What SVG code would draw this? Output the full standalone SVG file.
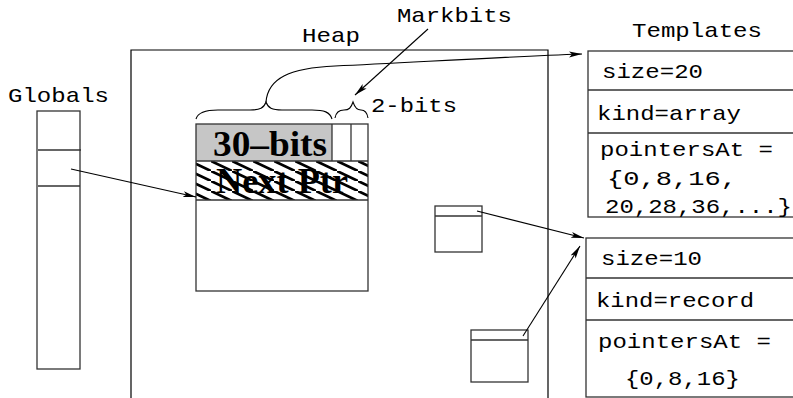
<svg xmlns="http://www.w3.org/2000/svg" width="793" height="398" viewBox="0 0 793 398">
<style>
.mono{font-family:"Liberation Mono","DejaVu Sans Mono",monospace;font-size:21px;fill:#000}
.big{font-family:"Liberation Serif","DejaVu Serif",serif;font-size:36px;font-weight:bold;fill:#000}
.box{fill:none;stroke:#333;stroke-width:1.3}
.ln{fill:none;stroke:#000;stroke-width:1.2}
.conn{fill:none;stroke:#000;stroke-width:1.1}
</style>
<defs>
<marker id="ah" markerUnits="userSpaceOnUse" markerWidth="14" markerHeight="8" refX="13" refY="4" orient="auto">
<path d="M0,1 L13,4 L0,7 L3,4 z" fill="#000"/>
</marker>
<pattern id="hatch" patternUnits="userSpaceOnUse" width="21" height="10" x="190" y="161">
<path d="M-21,-10 L42,20" stroke="#000" stroke-width="2.7"/>
</pattern>
<clipPath id="npclip"><rect x="196" y="161" width="172" height="39"/></clipPath>
</defs>

<g id="globals">
<text class="mono" x="8" y="102" textLength="101" lengthAdjust="spacingAndGlyphs">Globals</text>
<rect class="box" x="37" y="111" width="43" height="258"/>
<line class="box" x1="38" y1="150" x2="81" y2="150"/>
<line class="box" x1="38" y1="186" x2="80" y2="186"/>
</g>

<g id="heap">
<text class="mono" x="302" y="42" textLength="58" lengthAdjust="spacingAndGlyphs">Heap</text>
<path class="ln" d="M131,400 V50 H548 V400"/>
</g>

<g id="object">
<rect x="196" y="124" width="136" height="37" fill="#c6c6c6"/>
<rect x="196" y="161" width="172" height="39" fill="url(#hatch)"/>
<rect class="box" x="196" y="124" width="172" height="167"/>
<line class="box" x1="196" y1="161" x2="368" y2="161"/>
<line class="box" x1="196" y1="200" x2="368" y2="200"/>
<line class="box" x1="332" y1="124" x2="332" y2="161"/>
<line class="box" x1="351" y1="124" x2="351" y2="161"/>
<text class="big" x="213" y="156" textLength="114" lengthAdjust="spacingAndGlyphs">30–bits</text>
<text class="big" x="216" y="193" textLength="132" lengthAdjust="spacingAndGlyphs" clip-path="url(#npclip)">Next Ptr</text>
</g>

<g id="braces">
<path class="conn" d="M196,119 C198,112 206,110 218,110 L250,110 C260,110 264,108 266,102 C268,108 272,110 282,110 L312,110 C324,110 330,112 332,119"/>
<path class="conn" d="M335,118 C336,112 339,110 344,110 C349,110 351,108 353,102 C355,108 357,110 361,110 C365,110 367,112 368,118"/>
<text class="mono" x="371" y="112" textLength="86" lengthAdjust="spacingAndGlyphs">2-bits</text>
</g>

<g id="markbits">
<text class="mono" x="397" y="22" textLength="115" lengthAdjust="spacingAndGlyphs">Markbits</text>
</g>

<g id="objA">
<rect class="box" x="435" y="206" width="47" height="46"/>
<line class="box" x1="435" y1="216" x2="482" y2="216"/>
</g>

<g id="objB">
<rect class="box" x="471" y="330" width="57" height="52"/>
<line class="box" x1="471" y1="340" x2="528" y2="340"/>
</g>

<g id="templates">
<text class="mono" x="632" y="37" textLength="130" lengthAdjust="spacingAndGlyphs">Templates</text>
</g>

<g id="template1">
<rect class="box" x="588" y="51" width="220" height="166"/>
<line class="box" x1="588" y1="90" x2="793" y2="90"/>
<line class="box" x1="588" y1="133" x2="793" y2="133"/>
<text class="mono" x="602" y="78" textLength="101" lengthAdjust="spacingAndGlyphs">size=20</text>
<text class="mono" x="597" y="120" textLength="144" lengthAdjust="spacingAndGlyphs">kind=array</text>
<text class="mono" x="600" y="156" textLength="173" lengthAdjust="spacingAndGlyphs">pointersAt =</text>
<text class="mono" x="607" y="185" textLength="130" lengthAdjust="spacingAndGlyphs">{0,8,16,</text>
<text class="mono" x="605" y="213" textLength="187" lengthAdjust="spacingAndGlyphs">20,28,36,...}</text>
</g>

<g id="template2">
<rect class="box" x="586" y="238" width="220" height="159"/>
<line class="box" x1="586" y1="278" x2="793" y2="278"/>
<line class="box" x1="586" y1="320" x2="793" y2="320"/>
<text class="mono" x="601" y="265" textLength="101" lengthAdjust="spacingAndGlyphs">size=10</text>
<text class="mono" x="596" y="307" textLength="158" lengthAdjust="spacingAndGlyphs">kind=record</text>
<text class="mono" x="598" y="348" textLength="173" lengthAdjust="spacingAndGlyphs">pointersAt =</text>
<text class="mono" x="625" y="385" textLength="115" lengthAdjust="spacingAndGlyphs">{0,8,16}</text>
</g>

<g id="connectors">
<line class="conn" x1="71" y1="169" x2="196" y2="197" marker-end="url(#ah)"/>
<line class="conn" x1="428" y1="29" x2="355" y2="95" marker-end="url(#ah)"/>
<path class="conn" d="M266,102 C268,78 290,68 335,66 C420,62 500,57 582,54" marker-end="url(#ah)"/>
<line class="conn" x1="477" y1="211" x2="584" y2="238" marker-end="url(#ah)"/>
<line class="conn" x1="523" y1="336" x2="580" y2="246" marker-end="url(#ah)"/>
</g>
</svg>
